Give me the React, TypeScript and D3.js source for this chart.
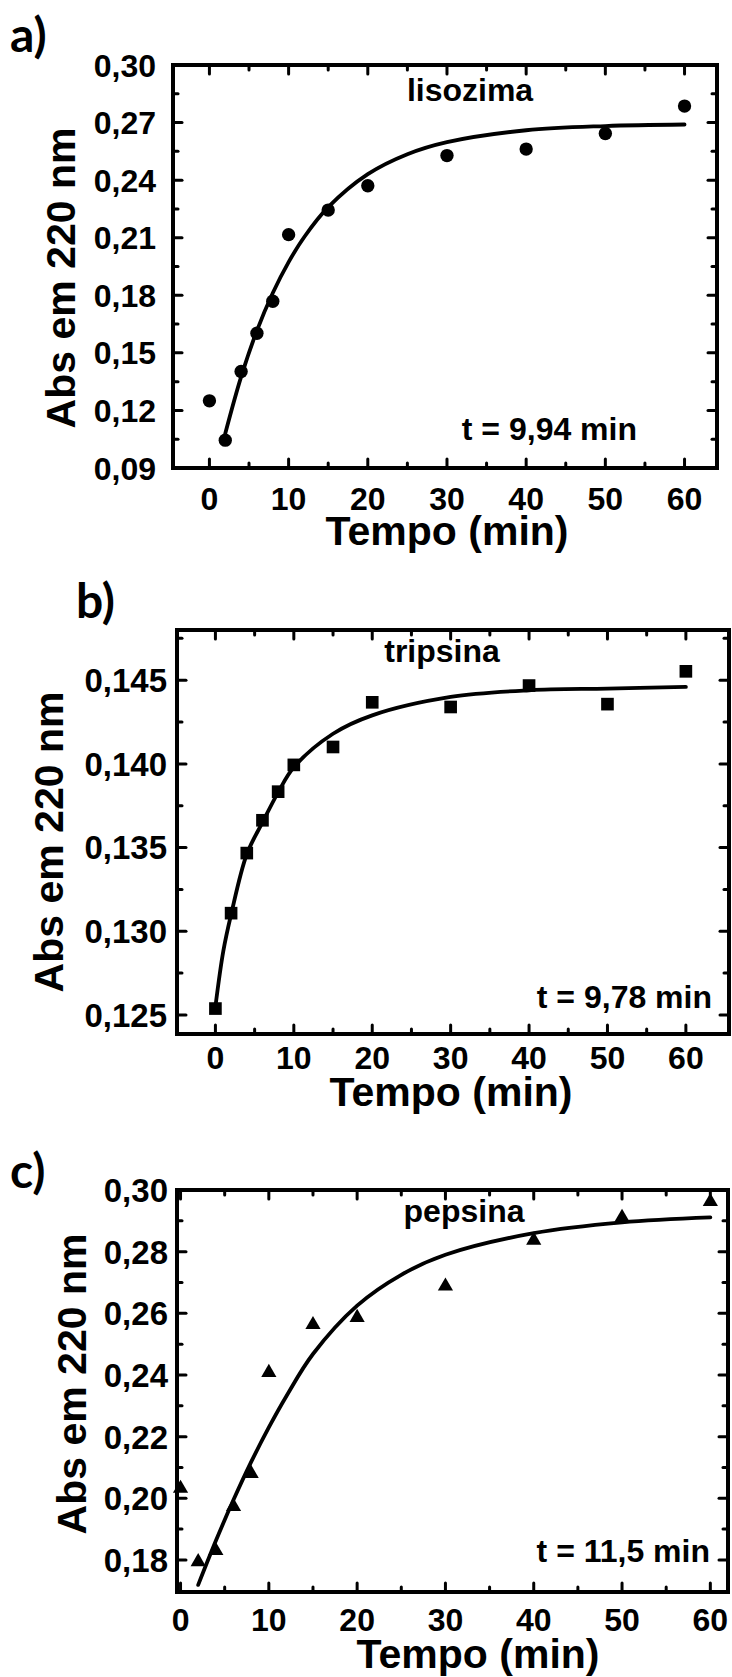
import React from "react";
import * as d3 from "d3";

// ---------- data ----------
const times = [0, 2, 4, 6, 8, 10, 15, 20, 30, 40, 50, 60];

const absLisozima = [0.125, 0.1045, 0.1403, 0.1602, 0.1769, 0.2116, 0.2244, 0.2371, 0.2528, 0.2562, 0.2643, 0.2786];
const fitTimesLisozima = [2, 4, 6, 8, 10, 12, 15, 20, 25, 30, 40, 50, 60];
const fitLisozima = [0.108, 0.1375, 0.1616, 0.1812, 0.1973, 0.2105, 0.2259, 0.2431, 0.2535, 0.2598, 0.266, 0.2682, 0.269];

const absTripsina = [0.12538, 0.13108, 0.13467, 0.13663, 0.13834, 0.13994, 0.14101, 0.14368, 0.1434, 0.14468, 0.14357, 0.14553];
const fitTimesTripsina = [0, 1, 2, 4, 6, 8, 10, 15, 20, 30, 40, 50, 60];
const fitTripsina = [0.1255, 0.1288, 0.131, 0.1346, 0.1365, 0.1383, 0.1398, 0.1418, 0.1429, 0.144, 0.1444, 0.1445, 0.1446];

const absPepsina = [0.2032, 0.1794, 0.183, 0.1973, 0.208, 0.2408, 0.2563, 0.2586, 0.2688, 0.2837, 0.2911, 0.2962];
const fitTimesPepsina = [2, 4, 6, 8, 10, 12, 15, 20, 25, 30, 40, 50, 60];
const fitPepsina = [0.1719, 0.1862, 0.1995, 0.2118, 0.223, 0.2332, 0.2468, 0.2625, 0.2725, 0.279, 0.286, 0.2895, 0.2911];

// ---------- ticks ----------
const xMajor = [0, 10, 20, 30, 40, 50, 60];
const xMinor = [5, 15, 25, 35, 45, 55];
const yMajorA = [0.09, 0.12, 0.15, 0.18, 0.21, 0.24, 0.27, 0.3];
const yMinorA = [0.105, 0.135, 0.165, 0.195, 0.225, 0.255, 0.285];
const yMajorB = [0.125, 0.13, 0.135, 0.14, 0.145];
const yMinorB = [0.1275, 0.1325, 0.1375, 0.1425, 0.1475];
const yMajorC = [0.18, 0.2, 0.22, 0.24, 0.26, 0.28, 0.3];
const yMinorC = [0.19, 0.21, 0.23, 0.25, 0.27, 0.29];

const FONT = "'Liberation Sans', Arial, Helvetica, sans-serif";
const LABEL_FONT = "Lato, 'Open Sans', sans-serif";

const comma = (s: string) => s.replace(".", ",");

type PanelCfg = {
  frame: { l: number; r: number; t: number; b: number };
  xDomain: [number, number];
  yDomain: [number, number];
  yMajor: number[];
  yMinor: number[];
  yDigits: number;
  x: number[];
  y: number[];
  fx: number[];
  fy: number[];
  symbol: d3.SymbolType;
  symSize: number;
  letter: string;
  letterPos: [number, number];
  name: string;
  namePos: [number, number];
  tau: string;
  tauPos: [number, number];
  yTickRight: number;
  yTickSize: number;
  xTickBase: number;
  xTitlePos: [number, number];
  yTitlePos: [number, number];
};

function Txt(props: {
  x: number; y: number; size: number; sx?: number; anchor?: string; rot?: number;
  family?: string; weight?: string | number; children: React.ReactNode;
}) {
  const { x, y, size, sx = 1, anchor = "middle", rot = 0, family = FONT, weight = "bold", children } = props;
  return (
    <text
      transform={`translate(${x},${y}) rotate(${rot}) scale(${sx},1)`}
      fontSize={size}
      fontFamily={family}
      fontWeight={weight}
      textAnchor={anchor as any}
      fill="#000"
    >
      {children}
    </text>
  );
}

function Panel({ c }: { c: PanelCfg }) {
  const { l, r, t, b } = c.frame;
  const xs = d3.scaleLinear().domain(c.xDomain).range([l, r]);
  const ys = d3.scaleLinear().domain(c.yDomain).range([b, t]);
  const line = d3
    .line<number>()
    .x((_, i) => xs(c.fx[i]))
    .y((d) => ys(d))
    .curve(d3.curveCatmullRom.alpha(0.5));
  const sym = d3.symbol().type(c.symbol).size(c.symSize);
  const MAJ = 9;
  const MIN = 5;
  const ticks: React.ReactNode[] = [];
  const addX = (v: number, len: number, k: string) => {
    const px = xs(v);
    ticks.push(<line key={"xb" + k} x1={px} x2={px} y1={b} y2={b - len} />);
    ticks.push(<line key={"xt" + k} x1={px} x2={px} y1={t} y2={t + len} />);
  };
  const addY = (v: number, len: number, k: string) => {
    const py = ys(v);
    ticks.push(<line key={"yl" + k} x1={l} x2={l + len} y1={py} y2={py} />);
    ticks.push(<line key={"yr" + k} x1={r} x2={r - len} y1={py} y2={py} />);
  };
  xMajor.forEach((v) => addX(v, MAJ, "M" + v));
  xMinor.forEach((v) => addX(v, MIN, "m" + v));
  c.yMajor.forEach((v) => addY(v, MAJ, "M" + v));
  c.yMinor.forEach((v) => addY(v, MIN, "m" + v));

  return (
    <g>
      <g stroke="#000" strokeWidth={3} strokeLinecap="round">{ticks}</g>
      <rect x={l} y={t} width={r - l} height={b - t} fill="none" stroke="#000" strokeWidth={4} />
      <path d={line(c.fy) || ""} fill="none" stroke="#000" strokeWidth={3.8} strokeLinecap="round" />
      {c.x.map((v, i) => (
        <path key={i} d={sym() || ""} transform={`translate(${xs(v)},${ys(c.y[i])})`} fill="#000" />
      ))}
      {c.yMajor.map((v) => (
        <Txt key={"yl" + v} x={c.yTickRight} y={ys(v) + c.yTickSize * 0.36} size={c.yTickSize} anchor="end">
          {comma(v.toFixed(c.yDigits))}
        </Txt>
      ))}
      {xMajor.map((v) => (
        <Txt key={"xl" + v} x={xs(v)} y={c.xTickBase} size={32}>
          {String(v)}
        </Txt>
      ))}
      <Txt x={c.xTitlePos[0]} y={c.xTitlePos[1]} size={41}>Tempo (min)</Txt>
      <Txt x={c.yTitlePos[0]} y={c.yTitlePos[1]} size={41} rot={-90}>Abs em 220 nm</Txt>
      <Txt x={c.namePos[0]} y={c.namePos[1]} size={32}>{c.name}</Txt>
      <Txt x={c.tauPos[0]} y={c.tauPos[1]} size={32} anchor="end">{c.tau}</Txt>
      <Txt x={c.letterPos[0]} y={c.letterPos[1]} size={48} anchor="start" family={LABEL_FONT} weight={700}>
        {c.letter}
      </Txt>
    </g>
  );
}

const panels: PanelCfg[] = [
  {
    frame: { l: 173, r: 717, t: 65, b: 468 },
    xDomain: [-4.6, 64.1],
    yDomain: [0.09, 0.3],
    yMajor: yMajorA,
    yMinor: yMinorA,
    yDigits: 2,
    x: times,
    y: absLisozima,
    fx: fitTimesLisozima,
    fy: fitLisozima,
    symbol: d3.symbolCircle,
    symSize: 140,
    letter: "a)",
    letterPos: [10, 52],
    name: "lisozima",
    namePos: [470, 101],
    tau: "t = 9,94 min",
    tauPos: [637, 440],
    yTickRight: 156,
    yTickSize: 32,
    xTickBase: 510,
    xTitlePos: [447, 545],
    yTitlePos: [75, 278],
  },
  {
    frame: { l: 177, r: 729, t: 630, b: 1034 },
    xDomain: [-4.9, 65.5],
    yDomain: [0.12386, 0.148],
    yMajor: yMajorB,
    yMinor: yMinorB,
    yDigits: 3,
    x: times,
    y: absTripsina,
    fx: fitTimesTripsina,
    fy: fitTripsina,
    symbol: d3.symbolSquare,
    symSize: 160,
    letter: "b)",
    letterPos: [76, 618],
    name: "tripsina",
    namePos: [442, 662],
    tau: "t = 9,78 min",
    tauPos: [712, 1008],
    yTickRight: 167,
    yTickSize: 33,
    xTickBase: 1069,
    xTitlePos: [451, 1106],
    yTitlePos: [63, 842],
  },
  {
    frame: { l: 177, r: 728, t: 1190, b: 1592 },
    xDomain: [-0.4, 62],
    yDomain: [0.1696, 0.3],
    yMajor: yMajorC,
    yMinor: yMinorC,
    yDigits: 2,
    x: times,
    y: absPepsina,
    fx: fitTimesPepsina,
    fy: fitPepsina,
    symbol: d3.symbolTriangle,
    symSize: 100,
    letter: "c)",
    letterPos: [10, 1188],
    name: "pepsina",
    namePos: [464, 1222],
    tau: "t = 11,5 min",
    tauPos: [710, 1562],
    yTickRight: 168,
    yTickSize: 33,
    xTickBase: 1631,
    xTitlePos: [478, 1668],
    yTitlePos: [86, 1384],
  },
];

export default function App() {
  return (
    <svg
      width={732}
      height={1677}
      viewBox="0 0 732 1677"
      style={{ position: "absolute", left: 0, top: 0, background: "#fff" }}
    >
      <rect x={0} y={0} width={732} height={1677} fill="#fff" />
      {panels.map((p, i) => (
        <Panel key={i} c={p} />
      ))}
    </svg>
  );
}
